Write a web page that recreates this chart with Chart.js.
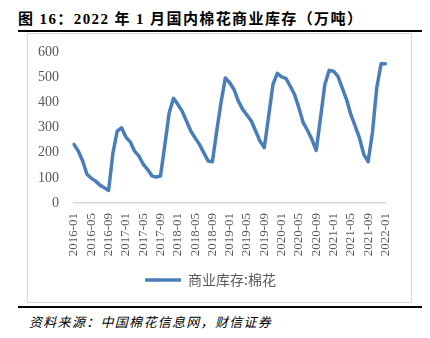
<!DOCTYPE html>
<html>
<head>
<meta charset="utf-8">
<script src="https://cdn.jsdelivr.net/npm/chart.js@4/dist/chart.umd.min.js"></script>
<style>
  body { margin: 0; width: 430px; height: 338px; background: #fff; position: relative; overflow: hidden; }
  .title { position: absolute; left: 18px; top: 7px; font: bold 15px "Liberation Serif", "Noto Sans CJK SC"; letter-spacing: 1.4px; color: #000; white-space: nowrap; }
  .rule { position: absolute; left: 18px; width: 404px; height: 2px; background: #000; }
  .box { position: absolute; left: 27px; top: 33px; width: 385px; height: 270px; box-sizing: border-box; border: 1px solid #d9d9d9; }
  .source { position: absolute; left: 29px; top: 312px; font: italic 13px "Noto Sans CJK SC"; letter-spacing: 1.3px; color: #000; white-space: nowrap; }
</style>
</head>
<body>
<div class="title">图 16：2022 年 1 月国内棉花商业库存（万吨）</div>
<div class="rule" style="top:30px"></div>
<div class="box"><canvas id="stockChart" width="383" height="268"></canvas></div>
<div class="rule" style="top:306px"></div>
<div class="source">资料来源：中国棉花信息网，财信证券</div>
<script>
// monthly, 2016-01 .. 2022-01
const months = [
  '2016-01','2016-02','2016-03','2016-04','2016-05','2016-06','2016-07','2016-08','2016-09','2016-10','2016-11','2016-12',
  '2017-01','2017-02','2017-03','2017-04','2017-05','2017-06','2017-07','2017-08','2017-09','2017-10','2017-11','2017-12',
  '2018-01','2018-02','2018-03','2018-04','2018-05','2018-06','2018-07','2018-08','2018-09','2018-10','2018-11','2018-12',
  '2019-01','2019-02','2019-03','2019-04','2019-05','2019-06','2019-07','2019-08','2019-09','2019-10','2019-11','2019-12',
  '2020-01','2020-02','2020-03','2020-04','2020-05','2020-06','2020-07','2020-08','2020-09','2020-10','2020-11','2020-12',
  '2021-01','2021-02','2021-03','2021-04','2021-05','2021-06','2021-07','2021-08','2021-09','2021-10','2021-11','2021-12',
  '2022-01'
];

// 商业库存:棉花 (万吨)
const stock = [
  233, 206, 167, 114, 98, 87, 71, 61, 50, 198, 286, 299,
  262, 243, 206, 187, 154, 134, 108, 103, 107, 230, 358, 416,
  392, 365, 326, 286, 259, 233, 200, 167, 164, 286, 400, 497,
  478, 451, 405, 372, 349, 326, 286, 246, 220, 345, 471, 515,
  501, 495, 464, 431, 378, 319, 288, 253, 209, 339, 471, 527,
  524, 504, 458, 412, 352, 306, 259, 193, 164, 279, 458, 553,
  553
];

const yTicks = [0, 100, 200, 300, 400, 500, 600];
const seriesName = '商业库存:棉花';

const lineColor = '#4A7EBB';
const tickColor = '#595959';

new Chart(document.getElementById('stockChart'), {
  type: 'line',
  data: {
    labels: months,
    datasets: [{
      label: seriesName,
      data: stock,
      borderColor: lineColor,
      backgroundColor: lineColor,
      borderWidth: 3.5,
      borderJoinStyle: 'round',
      borderCapStyle: 'round',
      pointRadius: 0,
      tension: 0
    }]
  },
  options: {
    responsive: false,
    devicePixelRatio: 1,
    animation: false,
    layout: { padding: { top: 18, right: 18, bottom: 5, left: 0 } },
    plugins: {
      tooltip: { enabled: false },
      legend: {
        position: 'bottom',
        labels: {
          usePointStyle: true,
          pointStyle: 'line',
          pointStyleWidth: 36,
          color: tickColor,
          font: { family: '"Noto Sans CJK SC"', size: 14 }
        }
      }
    },
    scales: {
      x: {
        offset: false,
        grid: { display: false, drawTicks: false },
        border: { display: true, color: '#d9d9d9', width: 1.5 },
        ticks: {
          autoSkip: false,
          maxRotation: 90,
          minRotation: 90,
          padding: 10,
          color: tickColor,
          font: { family: '"Liberation Serif"', size: 13 },
          callback: function (val, i) {
            return i % 4 === 0 ? this.getLabelForValue(val) : '';
          }
        },
        afterFit: (scale) => { scale.height = 60; }
      },
      y: {
        min: yTicks[0],
        max: yTicks[yTicks.length - 1],
        grid: { display: false, drawTicks: false },
        border: { display: false },
        afterBuildTicks: (scale) => { scale.ticks = yTicks.map(v => ({ value: v })); },
        ticks: {
          padding: 15,
          color: tickColor,
          font: { family: '"Liberation Serif"', size: 14 }
        },
        afterFit: (scale) => { scale.width = 46; scale.paddingTop = 0; scale.paddingBottom = 0; }
      }
    }
  }
});
</script>
</body>
</html>
